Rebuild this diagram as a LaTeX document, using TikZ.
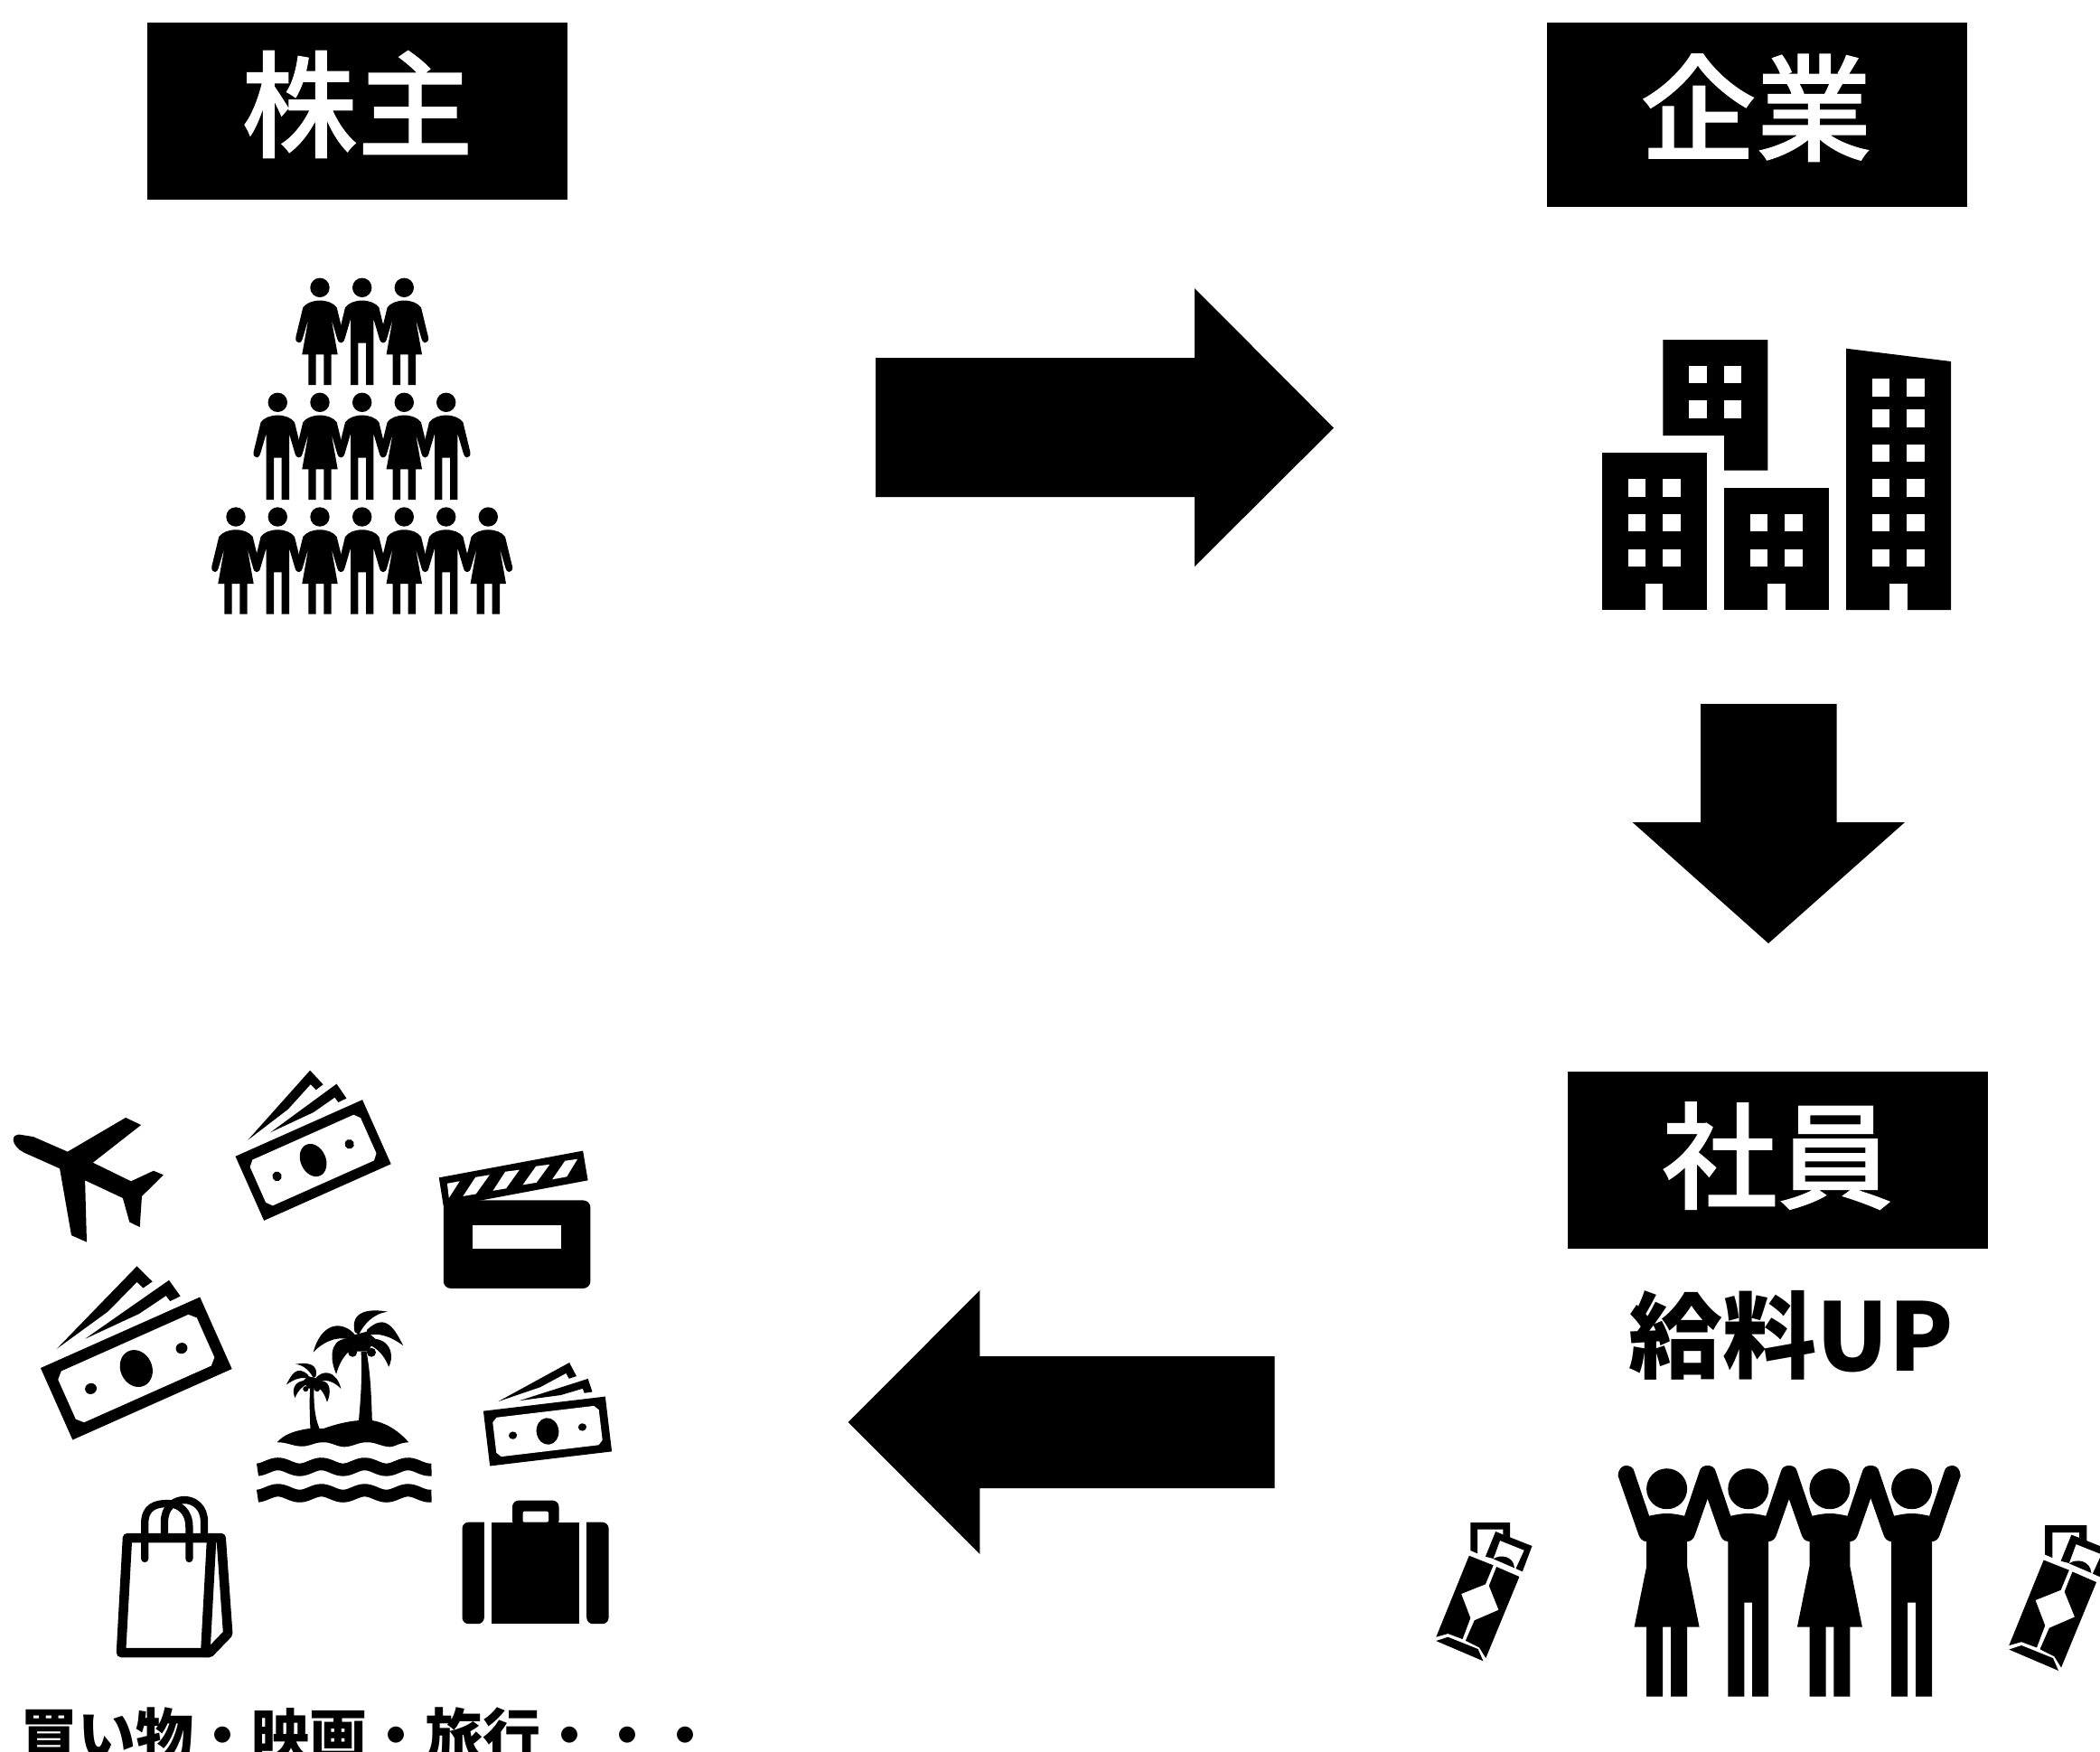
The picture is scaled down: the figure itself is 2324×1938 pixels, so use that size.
\documentclass[tikz,border=0pt]{standalone}
\usepackage{fontspec}
\newfontfamily\cjk[RawFeature={embolden=0.9}]{Noto Sans CJK JP Medium}
\newfontfamily\cjkheavy{Noto Sans CJK JP}
\tikzset{
    headbox/.style={fill=black,minimum width=4.65cm,minimum height=#1,inner sep=0pt},
    headtext/.style={text=white,inner sep=0pt,text height=1.126cm,text depth=0.154cm,font=\cjk\fontsize{36.4}{40}\selectfont},
    raisetext/.style={inner sep=0pt,text height=0.906cm,text depth=0.124cm,font=\cjkheavy\bfseries\fontsize{29.6}{30}\selectfont},
    spendtext/.style={inner sep=0pt,text height=0.56cm,text depth=0.08cm,font=\cjkheavy\bfseries\fontsize{18.2}{19}\selectfont},
    wave/.style={draw=black,line width=0.14cm},
    bagline/.style={draw=black,line join=round,line cap=round,line width=#1},
    pics/manfig/.style={code={
        \fill (0,0) circle (10.7);
        \fill (0,14.3) .. controls (8,14.3) and (15,17) .. (18.7,22) -- (26.7,55) .. controls (27.5,59) and (25,61) .. (23,61)
            .. controls (21,61) and (20,59) .. (19.3,57) -- (12.7,34.7) -- (12.7,107.7) -- (4.3,107.7) -- (4.3,61.3) -- (-4.3,61.3)
            -- (-4.3,107.7) -- (-12.7,107.7) -- (-12.7,34.7) -- (-19.3,57) .. controls (-20,59) and (-21,61) .. (-23,61)
            .. controls (-25,61) and (-27.5,59) .. (-26.7,55) -- (-18.7,22) .. controls (-15,17) and (-8,14.3) .. (0,14.3) -- cycle;
    }},
    pics/womanfig/.style={code={
        \fill (0,0) circle (10.7);
        \fill (0,14.3) .. controls (8,14.3) and (15,17) .. (18.7,22) -- (26.7,55) .. controls (27.5,59) and (25,61) .. (23,61)
            .. controls (21,61) and (20,59) .. (19.3,57) -- (12.7,34.7) -- (19.7,74) -- (12.7,74) -- (12.7,107.7) -- (4.3,107.7)
            -- (4.3,74) -- (-4.3,74) -- (-4.3,107.7) -- (-12.7,107.7) -- (-12.7,74) -- (-19.7,74) -- (-12.7,34.7) -- (-19.3,57)
            .. controls (-20,59) and (-21,61) .. (-23,61) .. controls (-25,61) and (-27.5,59) .. (-26.7,55) -- (-18.7,22)
            .. controls (-15,17) and (-8,14.3) .. (0,14.3) -- cycle;
    }},
    pics/raisedman/.style={code={
        \fill (0,0) circle (22.5);
        \fill (0,27.3) .. controls (7,27.3) and (13,28.5) .. (19.5,30) -- (36,-19) .. controls (37,-24) and (41,-25.7) .. (45.3,-25.7)
            .. controls (50,-25.7) and (54,-21) .. (54,-14.3) -- (31.5,50) .. controls (30,55) and (27,58.3) .. (22.4,58.3)
            -- (22.4,230) -- (4.4,230) -- (4.4,126) -- (-4.4,126) -- (-4.4,230) -- (-22.4,230) -- (-22.4,58.3)
            .. controls (-27,58.3) and (-30,55) .. (-31.5,50) -- (-54,-14.3) .. controls (-54,-21) and (-50,-25.7) .. (-45.3,-25.7)
            .. controls (-41,-25.7) and (-37,-24) .. (-36,-19) -- (-19.5,30) .. controls (-13,28.5) and (-7,27.3) .. (0,27.3) -- cycle;
    }},
    pics/raisedwoman/.style={code={
        \fill (0,0) circle (22.5);
        \fill (0,27.3) .. controls (7,27.3) and (13,28.5) .. (19.5,30) -- (36,-19) .. controls (37,-24) and (41,-25.7) .. (45.3,-25.7)
            .. controls (50,-25.7) and (54,-21) .. (54,-14.3) -- (31.5,50) .. controls (30,55) and (27,58.3) .. (22.4,58.3)
            -- (22.4,85.7) -- (36,153) -- (22.4,153) -- (22.4,230) -- (4.4,230) -- (4.4,153) -- (-4.4,153) -- (-4.4,230)
            -- (-22.4,230) -- (-22.4,153) -- (-36,153) -- (-22.4,85.7) -- (-22.4,58.3)
            .. controls (-27,58.3) and (-30,55) .. (-31.5,50) -- (-54,-14.3) .. controls (-54,-21) and (-50,-25.7) .. (-45.3,-25.7)
            .. controls (-41,-25.7) and (-37,-24) .. (-36,-19) -- (-19.5,30) .. controls (-13,28.5) and (-7,27.3) .. (0,27.3) -- cycle;
    }},
    pics/billfig/.style={code={
        \fill (-71.4,-55.7) -- (46.7,-103.1) -- (55.4,-80.6) -- (43.2,-78.2) -- (39.6,-87.1) -- (-3,-70.3) -- cycle;
        \fill (-38.4,-53) -- (72.8,-74.5) -- (77.2,-53.2) -- (64.5,-52.8) -- (62.8,-60.1) -- (27.3,-54) -- cycle;
        \fill (-96.5,-43.5) rectangle (96.5,43.5);
        \fill[white] (-84,-24) -- (-77,-31) -- (77,-31) -- (84,-24) -- (84,24) -- (77,31) -- (-77,31) -- (-84,24) -- cycle;
        \fill (0,0) ellipse [x radius=17.5,y radius=21];
        \fill (-55,0) ellipse [x radius=6.5,y radius=6];
        \fill (55,0) ellipse [x radius=6.5,y radius=6];
    }},
    pics/palmtop/.style={code={
        \fill (-3,-3) .. controls (-18,-22) and (-42,-18) .. (-50.5,15) .. controls (-40,3) and (-25,-2) .. (-15,0) -- cycle;
        \fill (-15,0) .. controls (-33,2) and (-32,24) .. (-25,39) .. controls (-20,20) and (-10,12) .. (-3,8) -- cycle;
        \fill (-4.6,-7.5) .. controls (-10,-30) and (10,-34) .. (32,-30) .. controls (15,-28) and (5,-15) .. (0,-5) -- cycle;
        \fill (9,-10) .. controls (30,-30) and (40,-10) .. (49,7.5) .. controls (35,-3) and (20,-8) .. (8,-3) -- cycle;
        \fill (18,0) .. controls (38,3) and (38,22) .. (33,31) .. controls (28,18) and (20,10) .. (10,6) -- cycle;
        \fill (-15,0) -- (-3,-5) -- (9,-8) -- (18,0) -- (10,14) -- (-3,14) -- cycle;
        \fill (-7,15) circle (5);
        \fill (13.8,15) circle (5);
    }},
    pics/cashfig/.style={code={
        \fill (0,0) -- (43.9,0) -- (43.9,17) -- (36,13) -- (36,7.7) -- (7.8,7.7) -- (7.8,34.3) -- (0,31) -- cycle;
        \fill (27.8,10) -- (68.2,26) -- (57.5,54.3) -- (50.2,51) -- (59.5,30.7) -- (32.7,20) -- (25.3,40) -- (16.6,37.7) -- cycle;
        \fill (25.3,40.3) .. controls (32.7,35) and (47.7,36.7) .. (48.7,50.3) -- cycle;
        \fill (-1.5,36.7) -- (25.3,47.3) -- (16.6,68.3) -- (-10.2,79) -- (0,105.7) -- (-8.8,129) -- (-24.9,123) -- (-38,126.7) -- cycle;
        \fill (28.8,49) -- (54.1,60) -- (17,150) -- (9.7,138.3) -- (-5.4,130.7) -- (4.4,108.3) -- (31.2,96.7) -- (20.5,70) -- cycle;
        \fill (-38,131) -- (-24.9,126.7) -- (8.3,140) -- (14.1,153.3) -- cycle;
    }},
}
\begin{document}
\begin{tikzpicture}[x=0.01cm,y=-0.01cm]
    \useasboundingbox (0,0) rectangle (2324,1938);
    \clip (0,0) rectangle (2324,1938);

    % heads
    \node[headbox=1.96cm] (shareholderbox) at (395.8,123) {};
    \node[headtext] (shareholder) at (395.5,115.5) {株主};
    \node[headbox=2.04cm] (companybox) at (1944.3,127) {};
    \node[headtext] (company) at (1943.5,119.5) {企業};
    \node[headbox=1.96cm] (staffbox) at (1967.5,1284) {};
    \node[headtext] (staff) at (1967,1279) {社員};
    \node[raisetext] (raise) at (1982,1478) {給料UP};
    \node[spendtext,anchor=west] (spending) at (22,1920) {買い物・映画・旅行・・・};

    % arrows
    \fill (969,396) -- (1322,396) -- (1322,319) -- (1476,473.6) -- (1322,627) -- (1322,550) -- (969,550) -- cycle;
    \fill (1882,779) -- (2032.5,779) -- (2032.5,910) -- (2108,910) -- (1957,1044) -- (1806.6,910) -- (1882,910) -- cycle;
    \fill (1410.7,1501) -- (1084.3,1501) -- (1084.3,1428) -- (938.7,1574) -- (1084.3,1720) -- (1084.3,1647) -- (1410.7,1647) -- cycle;

    % shareholders
    \foreach \x/\kind in {354/womanfig,400.7/manfig,447.3/womanfig}
        {\pic at (\x,318.3) {\kind};}
    \foreach \x/\kind in {307.3/manfig,354/womanfig,400.7/manfig,447.3/womanfig,493.7/manfig}
        {\pic at (\x,445.3) {\kind};}
    \foreach \x/\kind in {261/womanfig,307.3/manfig,354/womanfig,400.7/manfig,447.3/womanfig,493.7/manfig,540.3/womanfig}
        {\pic at (\x,572) {\kind};}

    % buildings
    \fill (1772.7,501.3) rectangle (1889,675);
    \fill (1840.3,376) -- (1956.3,376) -- (1956.3,520.7) -- (1908,520.7) -- (1908,482) -- (1840.3,482) -- cycle;
    \fill (1908,540) rectangle (2024,675);
    \fill (2043,385.7) -- (2159,400) -- (2159,675) -- (2043,675) -- cycle;
    \foreach \x in {1801.7,1840.3}
        \foreach \y in {530.3,569,607.7}
            {\fill[white] (\x,\y) rectangle ++(19.3,19.3);}
    \foreach \x in {1869.3,1908}
        \foreach \y in {405,443.3}
            {\fill[white] (\x,\y) rectangle ++(19.3,19.3);}
    \foreach \x in {1937,1975.3}
        \foreach \y in {569,607.7}
            {\fill[white] (\x,\y) rectangle ++(19.3,19.3);}
    \foreach \x in {2072,2110.3}
        \foreach \y in {419.3,453.3,492,530.3,569,607.7}
            {\fill[white] (\x,\y) rectangle ++(19.3,19.3);}
    \foreach \x in {1821,1956.3,2091.3}
        {\fill[white] (\x,646) rectangle ++(19.3,29.5);}

    % staff
    \pic at (1844.6,1647.7) {raisedwoman};
    \pic at (1934.8,1647.7) {raisedman};
    \pic at (2024.9,1647.7) {raisedwoman};
    \pic at (2115.6,1647.7) {raisedman};
    \pic at (1627.3,1685) {cashfig};
    \pic[scale=1.05] at (2263.2,1688) {cashfig};

    % plane
    \fill (20.7,1255.5) -- (36.7,1258) -- (74.8,1274.6) -- (139.1,1236.9) -- (156.1,1245) -- (102.8,1286.7) -- (145,1307.3)
        -- (169.9,1295.7) -- (180.9,1300.3) -- (157,1323.9) -- (154.7,1358) -- (143.3,1352.5) -- (135.9,1325.9) -- (94.1,1306.3)
        -- (96,1374.6) -- (79,1367.1) -- (66.1,1293.2) -- (26.6,1275.6) .. controls (20,1272.5) and (14.7,1266) .. (14.7,1261.6)
        .. controls (14.7,1257) and (18,1255.5) .. (20.7,1255.5) -- cycle;

    % bills
    \pic[rotate=24] at (150.8,1514.5) {billfig};
    \pic[rotate=24,xscale=0.797,yscale=0.894] at (346.6,1284) {billfig};
    \pic[rotate=6.8,scale=0.704] at (606,1584) {billfig};

    % clapper
    \fill[rounded corners=0.08cm] (490.8,1328.4) -- (653.4,1328.4) -- (653.4,1425.9) -- (490.8,1425.9) -- cycle;
    \fill (485.8,1303.3) -- (645.1,1273.6) -- (650.6,1306.3) -- (532.6,1328.4) -- (490.8,1335) -- cycle;
    \fill[white] (523.4,1356) rectangle (620.8,1381.6);
    \fill[white] (494.9,1309.8) -- (508.7,1307.3) -- (496.8,1325.9) -- cycle;
    \fill[white] (526.2,1302.8) -- (541.8,1300.3) -- (526.7,1321.4) -- (512.4,1323.9) -- cycle;
    \fill[white] (559.2,1296.7) -- (574.8,1294.7) -- (560.1,1315.3) -- (545.5,1317.8) -- cycle;
    \fill[white] (593.2,1290.7) -- (608.4,1288.7) -- (593.7,1308.8) -- (578.5,1311.3) -- cycle;
    \fill[white] (625.3,1284.7) -- (639.1,1282.7) -- (627.2,1302.3) -- (611.1,1305.3) -- cycle;

    % island
    \foreach \y in {1623.4,1652.5}
        {\draw[wave] plot[domain=285:477.5,samples=70] (\x,{\y-3.2*cos(7.5*(\x-307.6))});}
    \fill (306.7,1596.2) .. controls (313,1589) and (322,1584) .. (342,1581) -- (358,1581) .. controls (372,1576) and (385,1573) .. (397.2,1572)
        -- (411.8,1572) .. controls (425,1574) and (440,1582) .. (452.2,1596.2) .. controls (440,1597) and (438,1601) .. (431.6,1601.3)
        .. controls (422,1601) and (416,1596) .. (406.3,1596.2) .. controls (396,1596) and (391,1601) .. (381,1601.3)
        .. controls (372,1601) and (367,1596) .. (358,1596.2) .. controls (348,1596) and (343,1601) .. (332.9,1600.7)
        .. controls (323,1600) and (317,1596) .. (306.7,1596.2) -- cycle;
    \fill (399.6,1496) .. controls (401,1525) and (399,1550) .. (397,1572) -- (411.8,1572) .. controls (411,1545) and (410,1520) .. (405.6,1496) -- cycle;
    \fill (343.4,1535) .. controls (342,1550) and (343,1568) .. (343.4,1581) -- (353.5,1581) .. controls (348,1568) and (347,1552) .. (347.6,1535) -- cycle;
    \pic at (397.2,1481.7) {palmtop};
    \pic[xscale=-0.61,yscale=0.61] at (346.7,1528) {palmtop};

    % bag
    \draw[bagline=0.105cm] (141,1702) -- (134,1829) -- (231.9,1829) -- (252.2,1808) -- (244.7,1702) -- cycle;
    \draw[bagline=0.105cm] (234.2,1702) -- (227.3,1829);
    \draw[bagline=0.083cm] (160.2,1725) -- (160.2,1686) .. controls (160.2,1668) and (172,1664) .. (185,1664) .. controls (198,1664) and (209.4,1672) .. (209.4,1690) -- (209.4,1725);
    \draw[bagline=0.083cm] (182,1702) -- (182,1684) .. controls (182,1668) and (193,1660) .. (204,1660) .. controls (215,1660) and (226,1668) .. (226,1684) -- (226,1702);

    % case
    \fill[rounded corners=0.07cm] (535.8,1684.7) -- (511.5,1684.7) -- (511.5,1797.2) -- (535.8,1797.2) [sharp corners] -- cycle;
    \fill (544,1684.7) rectangle (641,1797.2);
    \fill[rounded corners=0.07cm] (649.2,1684.7) -- (673.6,1684.7) -- (673.6,1797.2) -- (649.2,1797.2) [sharp corners] -- cycle;
    \fill[rounded corners=0.07cm] (567,1690) -- (567,1660.6) -- (618.5,1660.6) -- (618.5,1690) -- cycle;
    \fill[white,rounded corners=0.02cm] (578.5,1684.7) -- (578.5,1672.6) -- (607,1672.6) -- (607,1684.7) -- cycle;
\end{tikzpicture}
\end{document}
